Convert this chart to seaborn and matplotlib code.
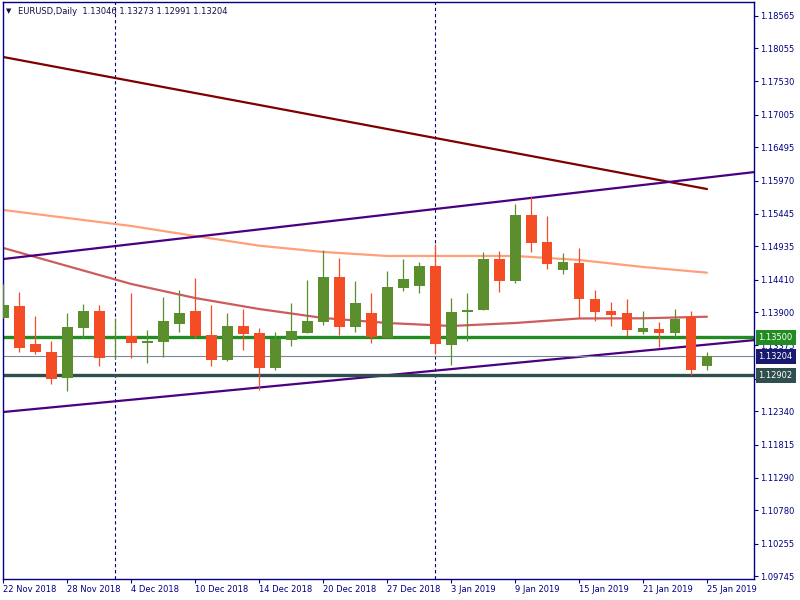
import numpy as np
import pandas as pd
import matplotlib
matplotlib.use("Agg")
import matplotlib.pyplot as plt
import matplotlib.transforms as mtransforms
import seaborn as sns

# ---- daily bars, 22 Nov 2018 .. 25 Jan 2019 (EURUSD) ----
dates = [d for d in pd.bdate_range("2018-11-22", "2019-01-25")
         if d not in (pd.Timestamp("2018-12-25"), pd.Timestamp("2019-01-01"))]

opens = [1.13811, 1.13996, 1.13397, 1.13271, 1.12867, 1.13654, 1.13917, 1.13519, 1.13524, 1.13418,
         1.13434, 1.13717, 1.13917, 1.13539, 1.13150, 1.13681, 1.13571, 1.13024, 1.13465, 1.13575,
         1.13748, 1.14452, 1.13670, 1.13885, 1.13497, 1.14284, 1.14315, 1.14625, 1.13386, 1.13906,
         1.13937, 1.14735, 1.14394, 1.15428, 1.15003, 1.14567, 1.14672, 1.14106, 1.13917, 1.13885,
         1.13591, 1.13634, 1.13575, 1.13822, 1.13046]
highs = [1.14342, 1.14216, 1.13838, 1.13445, 1.13885, 1.14027, 1.14011, 1.13807, 1.14200, 1.13618,
         1.14137, 1.14247, 1.14436, 1.14011, 1.13885, 1.13948, 1.13649, 1.13586, 1.14043, 1.14405,
         1.14877, 1.14751, 1.14389, 1.14200, 1.14547, 1.14735, 1.14688, 1.14972, 1.14121, 1.14200,
         1.14846, 1.14861, 1.15601, 1.15711, 1.15412, 1.14830, 1.14909, 1.14247, 1.14059, 1.14106,
         1.13917, 1.13744, 1.13948, 1.13917, 1.13273]
lows = [1.13802, 1.13276, 1.13245, 1.12772, 1.12662, 1.13487, 1.13056, 1.13166, 1.13182, 1.13103,
        1.13198, 1.13591, 1.13487, 1.13056, 1.13135, 1.13308, 1.12678, 1.12993, 1.13371, 1.13575,
        1.13701, 1.13544, 1.13591, 1.13418, 1.13490, 1.14236, 1.14205, 1.13245, 1.13072, 1.13449,
        1.13930, 1.14221, 1.14362, 1.14850, 1.14583, 1.14504, 1.13811, 1.13764, 1.13685, 1.13528,
        1.13560, 1.13355, 1.13512, 1.12909, 1.12991]
closes = [1.14011, 1.13339, 1.13276, 1.12851, 1.13665, 1.13917, 1.13182, 1.13521, 1.13418, 1.13449,
          1.13759, 1.13885, 1.13524, 1.13150, 1.13681, 1.13560, 1.13024, 1.13476, 1.13602, 1.13759,
          1.14452, 1.13670, 1.14043, 1.13508, 1.14295, 1.14421, 1.14625, 1.13402, 1.13901, 1.13933,
          1.14735, 1.14394, 1.15428, 1.14992, 1.14661, 1.14688, 1.14110, 1.13906, 1.13854, 1.13623,
          1.13649, 1.13575, 1.13791, 1.12993, 1.13204]

# moving averages, read every 4th bar
ma_idx = list(range(0, 45, 4))
ma_slow = [1.17915, 1.17726, 1.17537, 1.17348, 1.17160, 1.16971,
           1.16782, 1.16593, 1.16404, 1.16215, 1.16026, 1.15837]
ma_mid = [1.15507, 1.15381, 1.15255, 1.15097, 1.14945, 1.14846,
          1.14783, 1.14783, 1.14783, 1.14720, 1.14610, 1.14520]
ma_fast = [1.14909, 1.14625, 1.14342, 1.14121, 1.13948, 1.13807,
           1.13728, 1.13681, 1.13728, 1.13799, 1.13802, 1.13827]

# trend lines (bar index, price)
trend_x = [0, 47]
trend_upper = [1.14735, 1.16105]
trend_lower = [1.12327, 1.13460]

# horizontal levels
level_green = 1.13500
level_dark = 1.12902

yticks = [1.18565, 1.18055, 1.17530, 1.17005, 1.16495, 1.15970, 1.15445, 1.14935, 1.14410,
          1.13900, 1.13375, 1.12850, 1.12340, 1.11815, 1.11290, 1.10780, 1.10255, 1.09745]

df = pd.DataFrame({"date": dates, "open": opens, "high": highs, "low": lows, "close": closes})
df["i"] = np.arange(len(df))
df["up"] = df["close"] >= df["open"]

BULL = "#5b8f2e"
BEAR = "#f44c25"
NAVY = "#000080"

sns.set_theme(style="white")
plt.rcParams["font.family"] = ["DejaVu Sans"]

fig = plt.figure(figsize=(8, 6), dpi=100)
ax = fig.add_axes([3 / 800, 21 / 600, 751 / 800, 577 / 600])

# month separators
month_starts = df.index[df["date"].dt.month != df["date"].dt.month.shift()][1:]
for m in month_starts:
    ax.axvline(m, color=NAVY, lw=0.8, ls=(0, (3, 2.5)), zorder=1)

# moving averages and trend lines
sns.lineplot(x=ma_idx, y=ma_slow, color="#800000", lw=1.6, ax=ax, zorder=2)
sns.lineplot(x=ma_idx, y=ma_mid, color="#ffa07a", lw=1.6, ax=ax, zorder=2)
sns.lineplot(x=ma_idx, y=ma_fast, color="#cd5c5c", lw=1.6, ax=ax, zorder=2)
sns.lineplot(x=trend_x, y=trend_upper, color="#4b0082", lw=1.6, ax=ax, zorder=2)
sns.lineplot(x=trend_x, y=trend_lower, color="#4b0082", lw=1.6, ax=ax, zorder=2)

# levels
ax.axhline(level_green, color="#228b22", lw=2.4, zorder=2)
ax.axhline(level_dark, color="#2f4f4f", lw=2.4, zorder=2)
ax.axhline(closes[-1], color="#778899", lw=0.8, zorder=2)

# candles
colors = np.where(df["up"], BULL, BEAR)
ax.vlines(df["i"], df["low"], df["high"], colors=colors, lw=0.9, zorder=3)
body_lo = df[["open", "close"]].min(axis=1)
body_h = (df["close"] - df["open"]).abs().clip(lower=0.00003)
ax.bar(df["i"], body_h, bottom=body_lo, width=0.68, color=colors, lw=0, zorder=4)

# axes
ax.set_xlim(-0.02, 46.94)
ax.set_ylim(1.09698, 1.18781)
ax.yaxis.tick_right()
ax.set_yticks(yticks)
ax.set_yticklabels([f"{v:.5f}" for v in yticks])
tick_idx = list(range(0, 45, 4))
ax.set_xticks(tick_idx)
ax.set_xticklabels([f"{df['date'][k].day} {df['date'][k].strftime('%b %Y')}" for k in tick_idx],
                   ha="left")
ax.tick_params(axis="both", colors=NAVY, labelsize=6, length=3, width=0.8, direction="out",
               pad=1.5, labelcolor=NAVY)
ax.tick_params(axis="y", right=True, left=False)
ax.tick_params(axis="x", bottom=True)
for s in ax.spines.values():
    s.set_color(NAVY)
    s.set_linewidth(1)
ax.set_xlabel("")
ax.set_ylabel("")

# price tags on the right scale
trans = mtransforms.blended_transform_factory(ax.transAxes, ax.transData)
for val, fc in [(level_green, "#228b22"), (closes[-1], "#191970"), (level_dark, "#2f4f4f")]:
    ax.text(1.006, val, f"{val:.5f}", transform=trans, ha="left", va="center", fontsize=6,
            color="white", zorder=10, clip_on=False,
            bbox=dict(boxstyle="square,pad=0.35", fc=fc, ec="none"))

# header
fig.text(6 / 800, 1 - 11 / 600, "\u25bc", fontsize=5, color="#10104a", va="center")
fig.text(18 / 800, 1 - 11 / 600,
         f"EURUSD,Daily  {opens[-1]:.5f} {highs[-1]:.5f} {lows[-1]:.5f} {closes[-1]:.5f}",
         fontsize=6, color="#10104a", va="center")

fig.savefig("out.png", dpi=100)
